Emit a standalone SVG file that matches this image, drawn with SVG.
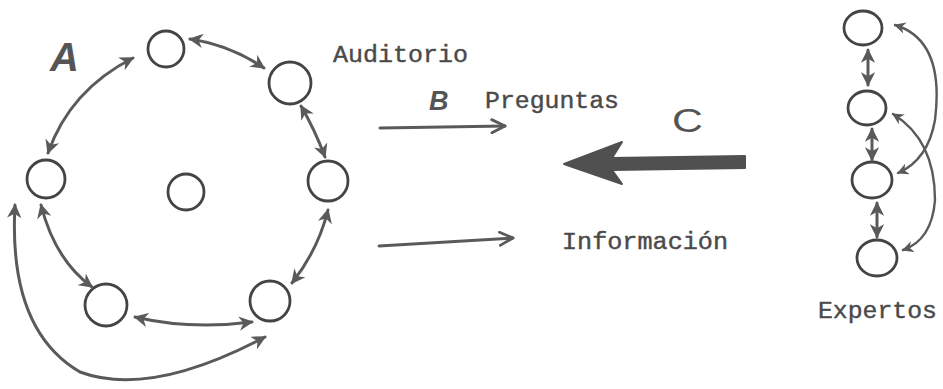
<svg xmlns="http://www.w3.org/2000/svg" width="943" height="389" viewBox="0 0 943 389">
<defs>
<marker id="ah" viewBox="0 0 10 10" refX="9" refY="5" markerWidth="4.8" markerHeight="4.8" orient="auto-start-reverse" markerUnits="strokeWidth">
<path d="M0,0 L10,5 L0,10 L3,5 Z" fill="#5a5a5a"/>
</marker>
<marker id="ch" viewBox="0 0 10 10" refX="9" refY="5" markerWidth="5.5" markerHeight="5.5" orient="auto" markerUnits="strokeWidth">
<path d="M1,1 L9,5 L1,9" fill="none" stroke="#5a5a5a" stroke-width="1.7" stroke-linecap="round" stroke-linejoin="round"/>
</marker>
</defs>
<style>
.n{fill:none;stroke:#444;stroke-width:2.8}
.c{fill:none;stroke:#5a5a5a;stroke-width:3;stroke-linecap:round;marker-start:url(#ah);marker-end:url(#ah)}
.t{font-family:"Liberation Mono","DejaVu Sans Mono",monospace;font-size:23px;fill:#4a4a4a;stroke:#4a4a4a;stroke-width:0.4}
.h{font-family:"Liberation Sans",Arial,sans-serif;font-style:italic;font-weight:bold;fill:#555}
</style>
<g id="auditorio">
<g id="a1"><circle class="n" cx="166" cy="49" r="18"/></g>
<g id="a2"><circle class="n" cx="290" cy="83" r="21"/></g>
<g id="a3"><circle class="n" cx="46" cy="179" r="19"/></g>
<g id="a4"><circle class="n" cx="328" cy="181" r="20"/></g>
<g id="a5"><circle class="n" cx="186" cy="192" r="18"/></g>
<g id="a6"><circle class="n" cx="106" cy="305" r="21"/></g>
<g id="a7"><circle class="n" cx="270" cy="301" r="20"/></g>
</g>
<g id="expertos">
<g id="e1"><ellipse class="n" cx="863" cy="28" rx="19" ry="17"/></g>
<g id="e2"><ellipse class="n" cx="867" cy="108" rx="19" ry="17"/></g>
<g id="e3"><ellipse class="n" cx="872" cy="180" rx="20" ry="18"/></g>
<g id="e4"><ellipse class="n" cx="877" cy="258" rx="20" ry="18"/></g>
</g>
<g id="connectors">
<path class="c" d="M133,58 Q70,90 48,153"/>
<path class="c" d="M190,39 Q230,45 264,68"/>
<path class="c" d="M301,106 Q315,130 325,157"/>
<path class="c" d="M41,205 Q55,260 92,287"/>
<path class="c" d="M328,210 Q318,250 292,283"/>
<path class="c" d="M135,317 Q190,330 252,322"/>
<path class="c" d="M15,205 Q8,330 80,372 Q150,398 265,337"/>
<path class="c" d="M868,50 L868,85"/>
<path class="c" d="M872,129 L872,160"/>
<path class="c" d="M877,203 L877,237"/>
<path class="c" d="M895,25 Q945,40 935,120 Q928,160 898,173" style="stroke-width:2.4"/>
<path class="c" d="M893,114 Q935,140 935,200 Q932,240 903,250" style="stroke-width:2.4"/>
<path d="M380,128 L505,126" fill="none" stroke="#5a5a5a" stroke-width="3" stroke-linecap="round" marker-end="url(#ch)"/>
<path d="M379,246 L513,238" fill="none" stroke="#5a5a5a" stroke-width="3" stroke-linecap="round" marker-end="url(#ch)"/>
<path d="M745,156 L612,158 L622,142 L564,164 L622,184 L612,170 L745,168 Z" fill="#505050" stroke="#505050" stroke-width="2" stroke-linejoin="round"/>
</g>
<text class="h" x="50" y="71" font-size="40">A</text>
<text class="h" x="429" y="110" font-size="27">B</text>
<text x="0" y="0" font-family="Liberation Sans,Arial,sans-serif" font-size="33" fill="#555" transform="translate(672,132) scale(1.3,1)">C</text>
<text class="t" x="333" y="62" textLength="135" lengthAdjust="spacingAndGlyphs">Auditorio</text>
<text class="t" x="485" y="108" textLength="134" lengthAdjust="spacingAndGlyphs">Preguntas</text>
<text class="t" x="562" y="249" textLength="166" lengthAdjust="spacingAndGlyphs">Información</text>
<text class="t" x="818" y="318" textLength="119" lengthAdjust="spacingAndGlyphs">Expertos</text>
</svg>
